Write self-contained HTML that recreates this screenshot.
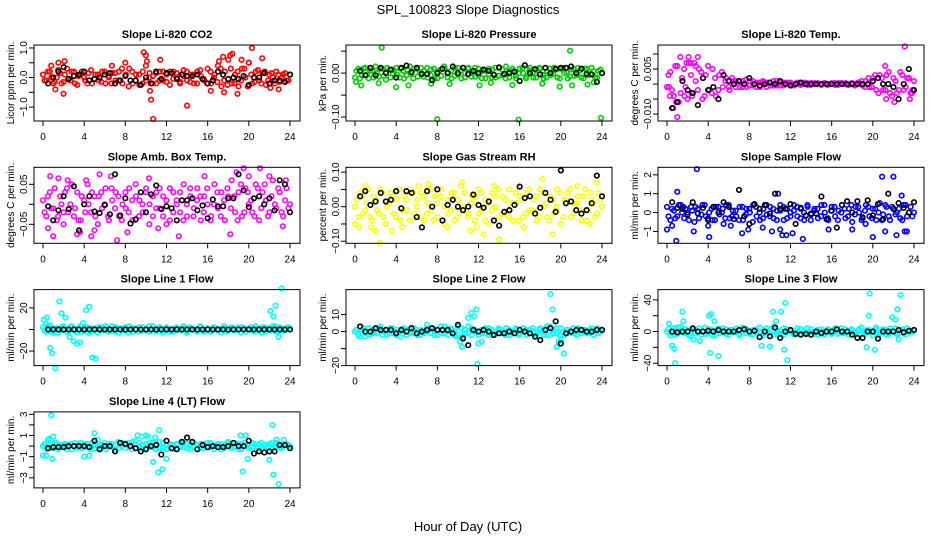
<!DOCTYPE html>
<html><head><meta charset="utf-8"><style>
html,body{margin:0;padding:0;background:#fff;}
svg{display:block;font-family:"Liberation Sans","DejaVu Sans",sans-serif;}
</style></head><body>
<svg id="chart" width="936" height="540" viewBox="0 0 936 540" xmlns="http://www.w3.org/2000/svg">
<text x="468" y="14" text-anchor="middle" font-size="13">SPL_100823  Slope Diagnostics</text>
<text x="468" y="531" text-anchor="middle" font-size="13">Hour of Day (UTC)</text>
</svg>
<script>
const xTicks = [0,4,8,12,16,20,24];

const co2Band = [0.1,-0.1,0.2,-0.2,0.0,0.15,-0.15,0.3,-0.1,0.2,-0.25,0.1,0.0,-0.2,0.25,-0.05,0.1,-0.15,0.2,0.05,-0.2,0.15,-0.1,0.3,0.5,-0.3,0.2,-0.1,0.1,-0.2,0.4,0.0,-0.2,0.15,-0.1,0.2,0.1,-0.25,0.2,0.0,-0.15,0.25,-0.1,0.1,-0.2,0.2,0.05,-0.1,0.3,-0.2,0.1,0.4,-0.3,0.2,0.6,-0.2,0.1,-0.3,0.3,0.0,0.5,-0.2,0.2,-0.1,0.15,-0.25,0.1,0.0,0.2,-0.15,0.1,-0.1,0.1];
const co2Band2 = [-0.1,0.2,0.0,-0.15,0.25,-0.2,0.1,-0.05,0.2,-0.2,0.05,0.2,-0.1,0.15,-0.2,0.1,-0.1,0.2,-0.2,0.0,0.15,-0.1,0.2,-0.2,0.1,0.3,-0.2,0.1,-0.25,0.2,-0.1,0.15,0.05,-0.2,0.2,-0.1,-0.15,0.2,-0.05,0.15,-0.2,0.05,0.2,-0.15,0.1,-0.2,0.25,-0.05,-0.2,0.2,0.0,-0.15,0.3,-0.1,-0.25,0.3,-0.2,0.2,-0.1,0.3,-0.3,0.1,-0.15,0.25,-0.2,0.2,-0.1,0.15,-0.2,0.1,0.0,0.15,-0.1];
const co2OutX = [0.8,1.2,1.5,2.0,2.1,6.7,9.8,10.0,10.1,10.4,10.5,10.7,11.4,14.0,16.3,17.1,17.6,18.2,18.4,18.9,19.3,20.3,20.0,21.3,22.1,22.9,17.5];
const co2OutY = [0.4,-0.4,0.5,-0.55,0.55,0.4,0.85,0.75,0.55,-0.45,-0.75,-1.4,0.6,-0.95,-0.45,0.55,-0.5,0.75,0.8,-0.55,0.6,1.0,0.5,0.65,-0.35,-0.4,0.7];
const co2Black = [-0.2,0.0,0.2,0.35,-0.05,0.05,0.1,0.2,-0.1,-0.05,0.0,0.1,0.15,-0.2,-0.1,0.05,-0.1,-0.1,-0.25,0.0,-0.2,0.2,-0.05,0.15,0.15,-0.05,0.1,0.05,0.05,0.1,-0.05,-0.2,-0.1,0.2,0.1,-0.05,0.0,-0.05,0.05,-0.25,0.0,0.0,0.15,-0.2,-0.1,-0.1,-0.15,0.1];

const presBand = [-0.01,0.01,-0.005,0.012,-0.012,0.005,0.015,-0.008,0.01,-0.015,0.008,0.0,0.012,-0.01,0.005,-0.005,0.015,-0.012,0.01,0.0,-0.008,0.012,-0.005,0.01,-0.012,0.008,0.015,-0.01,0.005,-0.006,0.012,-0.012,0.0,0.01,-0.008,0.012,-0.005,0.005,-0.012,0.01,0.008,-0.01,0.012,-0.005,0.015,-0.01,0.005,-0.012,0.01,0.0,-0.008,0.012,-0.01,0.006,0.01,-0.012,0.005,-0.005,0.012,-0.01,0.01,0.0,-0.012,0.008,-0.006,0.012,-0.01,0.01,-0.005,0.012,-0.01,0.005,0.0];
const presBand2 = [0.005,-0.012,0.01,-0.004,0.006,-0.01,0.0,0.01,-0.006,0.012,-0.01,0.006,-0.004,0.01,-0.012,0.008,-0.002,0.01,-0.008,0.012,0.004,-0.01,0.008,-0.012,0.004,-0.006,0.01,0.002,-0.012,0.012,-0.004,0.006,-0.01,0.012,0.0,-0.008,0.01,-0.012,0.006,-0.002,-0.01,0.012,-0.006,0.008,-0.012,0.004,0.01,-0.006,0.0,0.012,-0.012,0.006,0.002,-0.01,0.012,-0.004,-0.01,0.01,-0.002,0.008,-0.012,0.012,0.002,-0.008,0.01,-0.004,0.006,-0.012,0.01,-0.002,0.004,-0.01,0.008];
const presOutX = [0.1,0.6,2.6,2.3,4.0,5.2,7.4,8.0,9.2,12.1,13.2,15.3,15.9,18.2,19.9,20.9,21.1,22.6,23.2,23.9];
const presOutY = [-0.02,-0.028,0.058,-0.023,-0.032,-0.028,-0.024,-0.105,-0.025,-0.028,-0.022,-0.027,-0.106,-0.024,-0.031,0.051,-0.028,-0.026,-0.021,-0.102];
const presBlack = [0.005,-0.005,0.012,-0.005,0.012,0.0,0.008,-0.01,0.012,0.017,0.002,0.012,-0.002,-0.002,-0.016,0.0,0.01,0.0,0.015,0.0,0.012,-0.002,0.005,0.0,0.008,0.005,-0.004,0.013,-0.002,0.0,0.003,-0.018,0.018,0.0,0.009,-0.003,0.012,0.0,0.01,0.012,0.012,0.015,0.0,0.01,-0.002,-0.003,-0.02,0.0];

const tempBand = [-0.001,0.004,-0.004,0.006,-0.003,0.005,-0.005,0.003,0.007,-0.002,0.004,-0.004,0.006,-0.003,0.002,-0.002,0.004,0.001,-0.001,0.002,-0.001,0.001,-0.001,0.0015,-0.0005,0.001,-0.001,0.0005,0.001,-0.001,0.0005,-0.0005,0.001,-0.0005,0.0005,0.0,0.0005,-0.0005,0.0005,0.0,0.0005,-0.0003,0.0003,0.0,0.0003,-0.0003,0.0003,0.0,0.0003,-0.0003,0.0003,0.0,0.0003,-0.0003,0.0003,0.0,0.0005,-0.0005,0.001,-0.001,0.002,-0.002,0.003,-0.002,0.003,-0.003,0.002,-0.003,0.004,-0.002,0.002,-0.003,0.001];
const tempBand2 = [0.003,-0.002,0.006,-0.006,0.002,-0.001,0.007,-0.004,0.001,0.005,-0.005,0.003,-0.002,0.005,-0.004,0.003,-0.001,0.002,-0.002,0.001,0.001,-0.001,0.001,-0.001,0.001,-0.0005,0.0005,-0.001,0.0005,0.0005,-0.0005,0.001,-0.0005,0.0005,-0.0005,0.0005,0.0,-0.0003,0.0003,-0.0003,0.0,0.0003,-0.0003,0.0003,0.0,-0.0003,0.0003,-0.0003,0.0,0.0003,-0.0003,0.0003,0.0,-0.0003,0.0003,-0.0005,0.0005,0.001,-0.001,0.002,-0.001,0.003,-0.003,0.002,-0.002,0.004,-0.004,0.001,-0.002,0.003,-0.001,0.002,-0.002];
const tempOutX = [0.3,0.6,0.9,1.0,1.3,2.1,2.4,3.0,1.7,2.3,21.3,22.1,23.1,23.6,23.8,0.2,21.2,1.9,2.8];
const tempOutY = [-0.004,-0.008,-0.006,-0.011,0.009,0.009,-0.003,0.009,-0.004,0.007,-0.005,-0.006,0.0125,-0.005,-0.003,-0.001,0.006,0.007,0.006];
const tempBlack = [-0.008,-0.006,0.001,-0.002,-0.003,-0.007,0.002,-0.002,-0.001,-0.005,0.003,0.001,0.0,0.001,0.0,0.002,0.0,-0.0005,0.0,0.0005,0.0,0.001,0.0,-0.0005,0.0,0.0005,0.0,0.0,0.0,0.0,0.0,0.0,0.0,0.0,0.0,0.0,0.0,0.0,0.0,0.001,0.002,0.0,0.0,-0.001,-0.005,0.0,0.005,-0.002];

const ambBand = [0.01,-0.03,0.03,-0.01,-0.04,0.02,-0.02,0.04,0.0,-0.03,0.03,-0.04,0.01,0.05,-0.02,0.02,-0.05,0.03,0.0,-0.03,0.04,-0.01,0.02,-0.04,0.03,-0.02,0.01,0.05,-0.03,0.0,0.03,-0.05,0.02,-0.01,0.04,-0.03,0.01,-0.04,0.03,0.0,-0.02,0.05,-0.03,0.02,-0.01,0.04,-0.04,0.02,0.0,-0.03,0.05,-0.01,0.03,-0.04,0.02,0.06,-0.02,0.03,-0.03,0.04,0.0,-0.02,0.05,-0.04,0.03,0.01,-0.02,0.06,-0.01,0.03,-0.03,0.04,0.0];
const ambBand2 = [-0.02,0.02,-0.01,0.04,-0.03,0.0,0.03,-0.02,0.05,-0.01,-0.04,0.02,-0.02,0.0,0.03,-0.03,0.02,-0.01,0.04,-0.04,0.01,0.03,-0.03,0.0,-0.01,0.04,-0.04,0.02,0.01,-0.02,0.04,0.0,-0.03,0.03,-0.01,0.02,-0.05,0.04,-0.02,0.01,0.03,-0.04,0.0,0.04,-0.03,0.01,0.02,-0.02,0.04,-0.04,0.0,0.03,-0.03,0.01,0.04,-0.01,0.02,-0.04,0.05,-0.02,0.03,0.01,-0.03,0.04,-0.01,0.05,-0.03,0.02,0.0,0.04,-0.02,0.01,-0.01];
const ambOutX = [0.5,0.7,1.0,1.5,2.4,3.3,3.6,4.2,4.7,5.5,6.6,7.2,8.2,10.3,11.2,13.2,15.7,18.2,18.8,19.5,20.0,21.1,22.0,23.3,23.6,2.0,5.0];
const ambOutY = [-0.06,0.07,-0.08,0.065,0.06,-0.075,-0.07,0.06,-0.08,0.075,0.07,-0.09,-0.07,0.065,-0.06,-0.08,0.07,-0.075,0.08,0.09,0.07,0.09,0.07,-0.055,0.06,-0.05,-0.065];
const ambBlack = [-0.005,-0.04,-0.015,0.02,-0.012,0.045,-0.065,0.0,0.02,-0.018,-0.022,-0.002,-0.025,0.075,-0.028,0.015,-0.048,-0.038,0.03,-0.02,0.025,0.047,-0.012,-0.005,-0.01,-0.04,0.01,0.01,0.015,-0.015,-0.003,-0.035,0.012,-0.005,-0.005,0.015,0.015,0.075,0.035,-0.007,0.015,0.02,-0.0,0.015,-0.015,0.06,0.05,-0.02];

const rhBand = [0.0,-0.03,0.03,-0.01,0.05,-0.04,0.02,-0.02,0.04,-0.05,0.01,0.03,-0.03,0.05,-0.01,0.02,-0.04,0.04,0.0,-0.03,0.03,-0.02,0.05,-0.04,0.01,0.03,-0.05,0.02,-0.01,0.04,-0.03,0.06,0.0,-0.02,0.03,-0.04,0.05,-0.01,0.02,-0.05,0.04,0.0,-0.03,0.03,-0.02,0.05,-0.04,0.01,0.03,-0.03,0.04,-0.01,0.02,-0.04,0.05,0.0,-0.03,0.03,-0.02,0.05,-0.05,0.02,0.04,-0.03,0.01,0.03,-0.04,0.05,-0.01,0.02,-0.03,0.04,0.0];
const rhBand2 = [0.02,0.04,-0.02,0.01,-0.03,0.03,-0.01,0.05,-0.03,0.0,0.04,-0.02,0.02,-0.04,0.03,-0.01,0.05,-0.02,0.02,0.04,-0.04,0.01,-0.01,0.03,-0.03,0.05,0.0,-0.02,0.04,-0.04,0.02,-0.01,0.04,-0.03,0.01,0.03,-0.02,0.04,-0.04,0.01,-0.01,0.03,0.05,-0.02,0.02,-0.03,0.01,0.04,-0.04,0.02,-0.02,0.05,-0.01,0.03,-0.03,0.04,0.01,-0.04,0.02,0.0,0.04,-0.03,0.02,0.05,-0.02,0.01,-0.01,0.03,-0.04,0.04,0.01,-0.02,0.02];
const rhOutX = [0.0,0.4,1.0,1.6,2.0,2.4,4.6,6.2,9.0,10.4,11.2,11.8,12.5,13.5,14.0,16.4,18.2,19.2,21.6,22.8,23.5,3.6,7.1];
const rhOutY = [-0.05,-0.06,0.06,-0.06,-0.07,-0.105,-0.06,0.06,-0.06,0.07,-0.07,-0.06,-0.08,0.06,-0.095,-0.06,0.08,-0.08,0.06,-0.05,0.07,-0.07,0.065];
const rhBlack = [0.03,0.045,0.005,0.015,0.04,0.015,0.02,0.045,-0.005,0.045,0.04,-0.03,-0.06,0.045,0.0,0.05,-0.04,0.005,0.02,0.0,-0.01,0.0,0.035,0.005,-0.003,0.015,-0.04,-0.055,-0.015,-0.01,0.005,0.058,0.025,0.03,-0.02,-0.003,0.04,0.02,-0.015,0.105,0.01,0.015,-0.01,-0.02,-0.01,0.01,0.09,0.03];

const sfBand = [0.3,-0.4,0.1,-0.2,0.4,-0.3,0.0,0.3,-0.5,0.2,-0.1,0.4,-0.3,0.2,-0.4,0.3,0.0,-0.3,0.4,-0.2,0.1,-0.4,0.3,-0.1,0.2,-0.5,0.3,0.0,-0.3,0.4,-0.2,0.2,-0.4,0.1,0.3,-0.3,0.0,0.4,-0.2,0.2,-0.4,0.3,-0.1,0.2,-0.3,0.4,0.0,-0.4,0.3,-0.2,0.1,0.4,-0.3,0.2,-0.5,0.3,0.0,-0.3,0.4,-0.2,0.2,-0.4,0.5,-0.1,0.3,-0.4,0.2,0.0,-0.3,0.4,-0.2,0.3,0.0];
const sfBand2 = [-0.2,0.2,-0.3,0.4,0.0,0.2,-0.4,0.1,0.3,-0.3,0.4,-0.2,0.0,-0.4,0.3,-0.1,0.2,0.4,-0.3,0.1,-0.2,0.3,-0.4,0.2,0.0,0.4,-0.2,-0.4,0.2,-0.1,0.3,-0.3,0.1,0.4,-0.4,0.2,-0.2,0.1,0.3,-0.3,0.0,0.4,-0.4,0.1,0.2,-0.2,0.4,-0.3,0.1,0.3,-0.4,0.0,0.2,-0.2,0.4,-0.1,0.3,-0.4,0.1,0.3,-0.3,0.2,0.0,-0.4,0.4,-0.2,0.3,-0.1,0.2,-0.4,0.4,0.0,-0.2];
const sfOutX = [0.0,0.5,0.9,1.0,2.6,2.9,4.0,4.1,5.5,6.2,7.3,7.9,9.3,10.2,10.8,11.0,11.2,11.6,12.2,13.2,15.7,18.0,19.3,20.0,20.9,21.2,22.0,22.3,22.8,23.1,23.3,1.6];
const sfOutY = [-0.9,-0.7,-1.5,1.1,-1.0,2.3,-0.7,-1.3,-0.6,-0.7,-1.1,-0.9,-0.8,-1.0,1.0,-0.9,-1.2,-1.2,-1.1,-1.4,-0.9,-0.9,-0.6,-1.3,1.9,-1.0,1.9,-1.2,0.9,-1.0,-1.0,0.3];
const sfBlack = [0.55,0.25,0.2,-0.1,0.55,-0.05,0.25,-0.4,0.3,0.0,0.55,0.3,-0.35,1.2,-0.2,-0.6,0.45,0.2,0.4,-0.05,1.0,0.2,0.2,0.45,-0.6,0.25,-0.15,-0.05,-0.05,0.85,-0.35,0.1,-0.8,0.4,0.6,0.0,0.6,-0.25,0.65,-0.15,0.45,-0.35,1.0,0.2,0.5,0.25,0.0,0.55];

const l1Band = [2,-2,4,-3,1,-1,3,-2,2,0,-3,3,-1,2,-2,1,-3,2,0,-1,3,-2,1,-1,2,-3,1,0,-2,2,-1,3,0,-2,1,-1,2,-2,0,1,-1,3,-2,1,0,-1,2,-2,1,-1,2,0,-3,1,-1,2,-1,0,2,-2,1,-1,3,-1,2,-2,1,3,-2,2,-1,1,0];
const l1Band2 = [-1,3,-2,1,-3,2,0,-2,3,-1,1,-2,2,-3,1,0,2,-1,3,-2,0,2,-3,1,-1,3,-2,1,2,-1,0,-2,3,-1,2,-3,1,0,-2,2,-1,1,-3,2,0,-2,3,-1,1,-2,2,-1,0,3,-2,1,-1,2,-3,1,0,2,-2,1,-3,2,0,-1,3,-2,1,-1,2];
const l1OutX = [0.1,0.4,0.7,0.9,1.2,1.6,1.8,2.2,2.6,3.0,3.3,3.6,3.9,4.2,4.5,4.8,5.1,22.1,22.4,22.6,22.9,23.2,0.3];
const l1OutY = [9,11,-17,-22,-36,26,15,11,-7,-11,-13,-12,6,18,21,-26,-27,17,12,22,-7,38,5];
const l1Black = [0,0,0,0,0,0,0,0,0,0,0,0,0,0,0,0,0,0,0,0,0,0,0,0,0,0,0,0,0,0,0,0,0,0,0,0,0,0,0,0,0,0,0,0,0,0,0,0];

const l2Band = [0,-2,1,-3,2,-1,0,2,-2,1,-1,2,-2,0,1,-2,2,-1,1,-2,0,2,-1,1,-2,3,-1,0,2,-2,3,-3,1,-1,2,0,-2,1,-1,2,-2,0,1,-1,2,-2,0,1,-1,2,-2,1,0,-1,2,-2,3,-2,1,-1,2,-2,1,0,-1,2,-1,1,-1,2,0,-1,1];
const l2Band2 = [1,-3,2,-1,-2,1,-1,3,0,-2,2,-1,1,-3,2,0,-1,2,-2,1,-1,0,2,-2,1,-1,3,-2,1,0,-2,2,-1,3,-2,1,0,-1,2,-2,1,-1,2,0,-2,1,-1,2,-2,0,1,-1,2,-2,1,0,-2,3,-1,2,-2,0,1,-1,2,-2,1,0,-1,1,-2,2,0];
const l2OutX = [9.8,10.2,10.4,11.0,11.3,11.6,11.8,12.0,11.9,19.0,19.2,19.6,19.8,20.3,20.0,12.3,7.0];
const l2OutY = [-3,-6,-9,8,11,9,13,-7,-19,22,13,-9,-6,-13,-5,-6,4];
const l2Black = [3,0,0,2,1,1,1,-1,1,0,2,-1,0,1,2,1,1,1,-1,4,-4,-8,1,0,1,0,-2,-1,-1,0,-1,1,0,-1,-3,-5,1,2,6,-7,-1,0,1,1,0,0,1,1];

const l3Band = [0,-5,4,-3,6,-2,1,-6,3,0,-4,5,-2,2,-5,4,-1,3,-4,2,0,-3,5,-2,1,-4,3,0,-5,4,-2,6,-3,1,-4,3,0,-2,4,-3,1,-2,3,0,-4,3,-1,2,-3,4,0,-2,3,-4,2,-1,3,-3,1,0,-5,5,-2,3,-4,4,0,-3,2,-2,4,-1,2];
const l3Band2 = [3,-2,-4,5,-1,3,-5,2,-2,4,0,-3,3,-5,1,-2,4,-3,2,-1,4,-5,0,3,-3,2,-1,5,-2,0,3,-4,1,-3,4,-1,2,-4,0,3,-2,4,-1,-3,2,0,-4,3,-1,2,-3,4,-2,0,3,-4,1,5,-3,2,-1,3,-4,0,2,-3,1,4,-2,3,-4,1,-1];
const l3OutX = [0.2,0.5,0.7,0.8,0.9,1.5,1.6,2.6,3.2,4.1,4.2,4.3,4.6,5.0,9.2,10.0,10.3,10.6,11.1,11.4,11.5,11.7,19.4,19.6,19.7,20.2,21.9,22.2,22.4,22.7,22.5];
const l3OutY = [10,-18,-22,-40,5,25,13,-10,-12,20,-27,22,13,-31,-18,-19,25,13,25,-23,36,-36,-20,20,48,-23,18,15,28,46,-10];
const l3Black = [0,-1,0,0,4,0,0,1,0,2,0,0,0,2,3,0,1,-7,0,-6,5,-8,0,2,-3,-4,-3,-4,0,-2,0,0,3,0,0,-4,-8,-8,0,0,-9,0,0,0,2,-1,1,2];

const l4Band = [0,-0.3,0.2,-0.2,0.3,-0.1,0.1,-0.3,0.2,0.0,-0.2,0.3,-0.1,0.2,-0.3,0.1,0.0,-0.2,0.3,-0.1,0.2,-0.3,0.4,0.0,-0.2,0.3,-0.3,0.5,0.0,-0.3,0.2,-0.1,0.3,-0.3,0.4,-0.2,0.1,0.0,-0.3,0.2,-0.1,0.3,-0.2,0.1,0.0,-0.3,0.2,-0.2,0.3,-0.1,0.0,0.2,-0.3,0.1,0.4,-0.2,0.3,-0.3,0.2,0.0,-0.2,0.3,-0.1,0.2,-0.3,0.1,0.2,-0.2,0.3,-0.1,0.0,0.2,0.0];
const l4Band2 = [0.2,0.1,-0.2,0.3,-0.3,0.1,0.2,-0.1,-0.3,0.3,0.1,-0.2,0.2,-0.1,0.3,-0.2,0.2,0.1,-0.3,0.2,-0.1,0.1,-0.2,0.3,0.2,-0.1,0.4,-0.2,0.3,0.1,-0.2,0.3,-0.1,0.2,-0.2,0.3,-0.3,0.2,0.1,-0.2,0.3,-0.1,0.2,-0.3,0.3,0.1,-0.2,0.2,-0.1,0.3,-0.3,0.1,0.2,-0.2,0.3,0.0,-0.1,0.2,-0.3,0.3,0.1,-0.1,0.2,-0.2,0.3,-0.1,-0.2,0.3,-0.1,0.2,-0.2,0.1,0.1];
const l4OutX = [0.0,0.3,0.6,0.8,0.9,1.0,4.0,4.5,5.0,5.3,9.2,9.6,10.0,10.2,10.7,10.9,11.2,11.3,11.6,12.0,19.2,19.4,19.7,19.9,22.0,22.3,22.4,22.7,22.9,23.4,0.5];
const l4OutY = [-0.9,-0.9,0.7,2.9,-1.2,0.9,-1.0,-0.9,1.2,0.6,1.0,0.9,1.0,0.9,-1.5,0.8,-2.5,1.5,-2.2,-1.2,1.0,-2.4,1.0,-1.2,-1.3,2.0,-2.7,0.6,-3.6,0.6,0.6];
const l4Black = [-0.2,-0.1,-0.1,-0.1,0.0,0.0,0.0,0.0,-0.1,0.5,-0.3,0.0,0.0,-0.5,0.3,0.2,0.0,-0.2,-0.5,-0.3,0.0,0.1,-0.8,0.5,-0.2,-0.3,0.4,0.8,0.4,-0.3,0.1,-0.1,0.0,-0.1,-0.1,0.0,0.3,0.0,0.0,0.5,-0.7,-0.5,-0.6,-0.5,-0.5,0.1,0.1,-0.2];

const panels = [
 {key:'co2',title:'Slope Li-820 CO2',ylab:'Licor ppm per min.',col:0,row:0,ymin:-1.47,ymax:1.1,ticks:[-1,-0.5,0,0.5,1],labels:['-1.0','','0.0','','1.0'],color:'#ff0000',band:co2Band,band2:co2Band2,ox:co2OutX,oy:co2OutY,black:co2Black},
 {key:'pressure',title:'Slope Li-820 Pressure',ylab:'kPa per min.',col:1,row:0,ymin:-0.109,ymax:0.064,ticks:[-0.1,-0.05,0,0.05],labels:['-0.10','','0.00',''],color:'#00cd00',band:presBand,band2:presBand2,ox:presOutX,oy:presOutY,black:presBlack},
 {key:'li820-temp',title:'Slope Li-820 Temp.',ylab:'degrees C per min.',col:2,row:0,ymin:-0.0123,ymax:0.013,ticks:[-0.01,-0.005,0,0.005,0.01],labels:['-0.010','','','0.005',''],color:'#ff00ff',band:tempBand,band2:tempBand2,ox:tempOutX,oy:tempOutY,black:tempBlack},
 {key:'amb-box-temp',title:'Slope Amb. Box Temp.',ylab:'degrees C per min.',col:0,row:1,ymin:-0.0975,ymax:0.0925,ticks:[-0.05,0,0.05],labels:['-0.05','','0.05'],color:'#ff00ff',band:ambBand,band2:ambBand2,ox:ambOutX,oy:ambOutY,black:ambBlack},
 {key:'gas-stream-rh',title:'Slope Gas Stream RH',ylab:'percent per min.',col:1,row:1,ymin:-0.106,ymax:0.114,ticks:[-0.1,-0.05,0,0.05,0.1],labels:['-0.10','','0.00','','0.10'],color:'#ffff00',band:rhBand,band2:rhBand2,ox:rhOutX,oy:rhOutY,black:rhBlack},
 {key:'sample-flow',title:'Slope Sample Flow',ylab:'ml/min per min.',col:2,row:1,ymin:-1.63,ymax:2.4,ticks:[-1,0,1,2],labels:['-1','0','1','2'],color:'#0000ff',band:sfBand,band2:sfBand2,ox:sfOutX,oy:sfOutY,black:sfBlack},
 {key:'line1-flow',title:'Slope Line 1 Flow',ylab:'ml/min per min.',col:0,row:2,ymin:-33.5,ymax:37,ticks:[-20,0,20],labels:['-20','','20'],color:'#00ffff',band:l1Band,band2:l1Band2,ox:l1OutX,oy:l1OutY,black:l1Black},
 {key:'line2-flow',title:'Slope Line 2 Flow',ylab:'ml/min per min.',col:1,row:2,ymin:-20,ymax:24.7,ticks:[-20,-10,0,10],labels:['-20','','0','10'],color:'#00ffff',band:l2Band,band2:l2Band2,ox:l2OutX,oy:l2OutY,black:l2Black},
 {key:'line3-flow',title:'Slope Line 3 Flow',ylab:'ml/min per min.',col:2,row:2,ymin:-43,ymax:53,ticks:[-40,-20,0,20,40],labels:['-40','','0','','40'],color:'#00ffff',band:l3Band,band2:l3Band2,ox:l3OutX,oy:l3OutY,black:l3Black},
 {key:'line4-flow',title:'Slope Line 4 (LT) Flow',ylab:'ml/min per min.',col:0,row:3,ymin:-3.95,ymax:3.23,ticks:[-3,-2,-1,0,1,2,3],labels:['-3','','-1','','1','','3'],color:'#00ffff',band:l4Band,band2:l4Band2,ox:l4OutX,oy:l4OutY,black:l4Black}
];

const NS='http://www.w3.org/2000/svg';
const svg=document.getElementById('chart');
function mk(tag,attrs,parent){const e=document.createElementNS(NS,tag);for(const k in attrs)e.setAttribute(k,attrs[k]);parent.appendChild(e);return e;}

panels.forEach(p=>{
  const left=34+312*p.col, right=left+266, top=45+122.3*p.row, bottom=top+76;
  const g=mk('g',{},svg);
  
  
  const xs=h=>left+9+h*(247/24);
  const ys=v=>top+(p.ymax-v)/(p.ymax-p.ymin)*76;
  const marks=mk('g',{fill:'none','stroke-width':1.6},g);
  
  
  const nb=p.band.length;
  p.band.forEach((v,i)=>{
    const c=mk('circle',{cx:xs(i*24/(nb-1)),cy:ys(v),r:2.3,stroke:p.color},marks);
    
    
  });
  const nb2=p.band2.length;
  p.band2.forEach((v,i)=>{
    const c=mk('circle',{cx:xs(0.15+i*23.7/(nb2-1)),cy:ys(v),r:2.3,stroke:p.color},marks);
    
    
  });
  p.ox.forEach((h,i)=>{
    const c=mk('circle',{cx:xs(h),cy:ys(p.oy[i]),r:2.3,stroke:p.color},marks);
    
    
  });
  const nk=p.black.length;
  p.black.forEach((v,i)=>{
    const c=mk('circle',{cx:xs(0.5+i*23.5/(nk-1)),cy:ys(v),r:2.3,stroke:'#000'},marks);
    
    
  });
  const box=mk('rect',{x:left,y:top,width:266,height:76,fill:'none',stroke:'#000','stroke-width':1},g);
  
  
  const xa=mk('g',{},g);
  
  
  xTicks.forEach(t=>{
    mk('line',{x1:xs(t),x2:xs(t),y1:bottom,y2:bottom+5,stroke:'#000'},xa);
    const tx=mk('text',{x:xs(t),y:bottom+19,'text-anchor':'middle','font-size':10},xa);
    tx.textContent=t;
    
    
  });
  const ya=mk('g',{},g);
  
  
  p.ticks.forEach((t,i)=>{
    mk('line',{x1:left,x2:left-5,y1:ys(t),y2:ys(t),stroke:'#000'},ya);
    if(p.labels[i]){
      const tx=mk('text',{x:0,y:0,'text-anchor':'middle','font-size':10,transform:`translate(${left-7},${ys(t)}) rotate(-90)`},ya);
      tx.textContent=p.labels[i].replace('-','\u2212');
      
      
    }
  });
  const yl=mk('text',{x:0,y:0,'text-anchor':'middle','font-size':10,transform:`translate(${left-20},${top+38}) rotate(-90)`},g);
  yl.textContent=p.ylab;
  
  
  const ti=mk('text',{x:(left+right)/2,y:top-7,'text-anchor':'middle','font-size':11,'font-weight':'bold'},g);
  ti.textContent=p.title;
  
  
});
</script>
</body></html>
